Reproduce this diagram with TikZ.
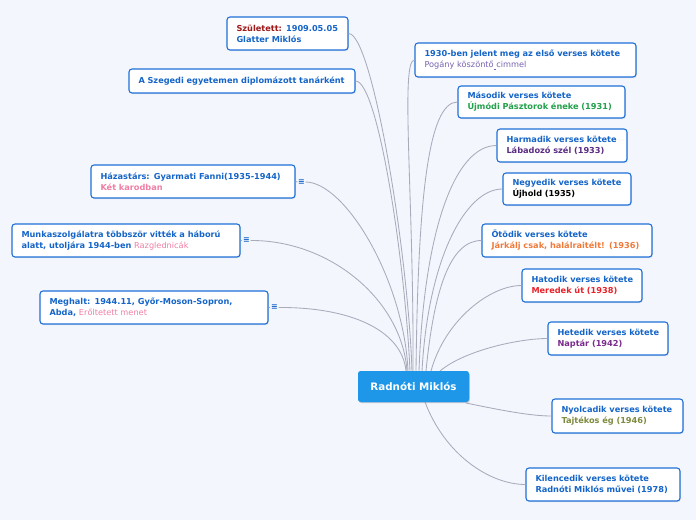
\documentclass[tikz,border=0pt]{standalone}
\usepackage{fontspec}
\setmainfont{DejaVu Sans}
\usetikzlibrary{shadows}
\definecolor{bg}{HTML}{F3F6FD}
\definecolor{bordc}{HTML}{1E70D8}
\definecolor{tblue}{HTML}{1565C8}
\definecolor{dred}{HTML}{A01818}
\definecolor{cfill}{HTML}{1F97E8}
\definecolor{lgray}{HTML}{A9ABBA}
\definecolor{lpurp}{HTML}{7862B0}
\definecolor{tgreen}{HTML}{22A04B}
\definecolor{dpurp}{HTML}{5B2C83}
\definecolor{torange}{HTML}{F07A3A}
\definecolor{tred}{HTML}{E8232B}
\definecolor{tpurp}{HTML}{7A2B8C}
\definecolor{tolive}{HTML}{7D8B3E}
\definecolor{tpink}{HTML}{EF7FA3}
\hbadness=10000 \hfuzz=50pt
\tikzset{
  topic/.style={draw=bordc, line width=1.1pt, fill=white, rounded corners=3pt,
    align=left, inner xsep=9.5pt, inner ysep=3pt, text=tblue, text width=#1,
    font=\fontsize{8.2}{11}\selectfont\bfseries,
    drop shadow={opacity=0.18, shadow xshift=0.8pt, shadow yshift=-1.2pt}},
  central/.style={fill=cfill, rounded corners=3pt, text=white,
    font=\fontsize{10.3}{12}\selectfont\bfseries, minimum width=111pt, minimum height=31pt,
    drop shadow={opacity=0.18, shadow xshift=0.8pt, shadow yshift=-1.2pt}},
  conn/.style={draw=lgray, line width=0.85pt},
  icon/.style={text=tblue, inner sep=0.5pt, font=\fontsize{8}{8}\selectfont\bfseries}
}
\begin{document}
\begin{tikzpicture}[x=1pt,y=-1pt]
\fill[bg] (0,0) rectangle (696,520);
\useasboundingbox (0,0) rectangle (696,520);

% central
\node[central] (c) at (413.5,386.5) {Radnóti Miklós};

% left topics
\node[topic=102pt, minimum height=33pt] (szul) at (287.5,33.5)
  {\mbox{\textcolor{dred}{Született:} 1909.05.05}\\\mbox{Glatter Miklós}};
\node[topic=207pt, minimum height=24pt] (szeg) at (242,81)
  {\mbox{A Szegedi egyetemen diplomázott tanárként}};
\node[topic=185pt, minimum height=33pt] (haz) at (193,181.5)
  {\mbox{Házastárs: Gyarmati Fanni(1935-1944)}\\\mbox{\textcolor{tpink}{Két karodban}}};
\node[topic=209pt, minimum height=33pt] (munka) at (126,240.5)
  {\mbox{Munkaszolgálatra többször vitték a háború}\\\mbox{alatt, utoljára 1944-ben \textcolor{tpink}{\mdseries Razglednicák}}};
\node[topic=209pt, minimum height=33pt] (megh) at (154,307.5)
  {\mbox{Meghalt: 1944.11, Győr-Moson-Sopron,}\\\mbox{Abda, \textcolor{tpink}{\mdseries Erőltetett menet}}};

\node[icon] (hazi) at (301.5,182) {≡};
\node[icon] (munkai) at (246.5,240.5) {≡};
\node[icon] (meghi) at (274.5,307.5) {≡};

% right topics
\node[topic=202pt, minimum height=34pt] (elso) at (525.5,60)
  {\mbox{1930-ben jelent meg az első verses kötete}\\\mbox{\textcolor{lpurp}{\mdseries Pogány köszöntő\underline{\ }cimmel}}};
\node[topic=148pt, minimum height=32pt] (masod) at (541.5,102)
  {\mbox{Második verses kötete}\\\mbox{\textcolor{tgreen}{Újmódi Pásztorok éneke (1931)}}};
\node[topic=111pt, minimum height=33pt] (harm) at (562,145.5)
  {\mbox{Harmadik verses kötete}\\\mbox{\textcolor{dpurp}{Lábadozó szél (1933)}}};
\node[topic=109pt, minimum height=32pt] (negy) at (567,189)
  {\mbox{Negyedik verses kötete}\\\mbox{\textcolor{black}{Újhold (1935)}}};
\node[topic=151pt, minimum height=33pt] (otod) at (567,240.5)
  {\mbox{Ötödik verses kötete}\\\mbox{\textcolor{torange}{Járkálj csak, halálraitélt! (1936)}}};
\node[topic=101pt, minimum height=33pt] (hat) at (582,285.5)
  {\mbox{Hatodik verses kötete}\\\mbox{\textcolor{tred}{Meredek út (1938)}}};
\node[topic=101pt, minimum height=33pt] (het) at (608,338.5)
  {\mbox{Hetedik verses kötete}\\\mbox{\textcolor{tpurp}{Naptár (1942)}}};
\node[topic=112pt, minimum height=34pt] (nyolc) at (617.5,416)
  {\mbox{Nyolcadik verses kötete}\\\mbox{\textcolor{tolive}{Tajtékos ég (1946)}}};
\node[topic=135pt, minimum height=33pt] (kilenc) at (603,484.5)
  {\mbox{Kilencedik verses kötete}\\\mbox{Radnóti Miklós művei (1978)}};

% attachment points on the central topic
\coordinate (t1) at (412,371);
\coordinate (t2) at (410,371);
\coordinate (t3) at (408,371);
\coordinate (t4) at (407,371);
\coordinate (t5) at (406,371);
\coordinate (r1) at (413,371);
\coordinate (r2) at (416,371);
\coordinate (r3) at (419,371);
\coordinate (r4) at (422,371);
\coordinate (r5) at (426,371);
\coordinate (r6) at (431,371);
\coordinate (r7) at (440,371);
\coordinate (b1) at (466,403);
\coordinate (b2) at (425,402);

\draw[conn] (szul.east) .. controls (372,33) and (408,250) .. (t1);
\draw[conn] (szeg.east) .. controls (378,81) and (405,260) .. (t2);
\draw[conn] (haz.east) -- (hazi.west);
\draw[conn] (hazi.east) .. controls (345,182) and (404,280) .. (t3);
\draw[conn] (munka.east) -- (munkai.west);
\draw[conn] (munkai.east) .. controls (330,240) and (402,300) .. (t4);
\draw[conn] (megh.east) -- (meghi.west);
\draw[conn] (meghi.east) .. controls (350,307) and (402,330) .. (t5);

\draw[conn] (r1) .. controls (414,200) and (400,60) .. (elso.west);
\draw[conn] (r2) .. controls (418,200) and (428,102) .. (masod.west);
\draw[conn] (r3) .. controls (424,230) and (455,145.5) .. (harm.west);
\draw[conn] (r4) .. controls (428,260) and (465,189) .. (negy.west);
\draw[conn] (r5) .. controls (434,290) and (450,240.5) .. (otod.west);
\draw[conn] (r6) .. controls (445,320) and (490,285.5) .. (hat.west);
\draw[conn] (r7) .. controls (465,350) and (520,338.5) .. (het.west);
\draw[conn] (b1) .. controls (500,410) and (530,416) .. (nyolc.west);
\draw[conn] (b2) .. controls (445,455) and (490,484.5) .. (kilenc.west);

% redraw central on top of connector ends
\node[central] at (c) {Radnóti Miklós};
\end{tikzpicture}
\end{document}
